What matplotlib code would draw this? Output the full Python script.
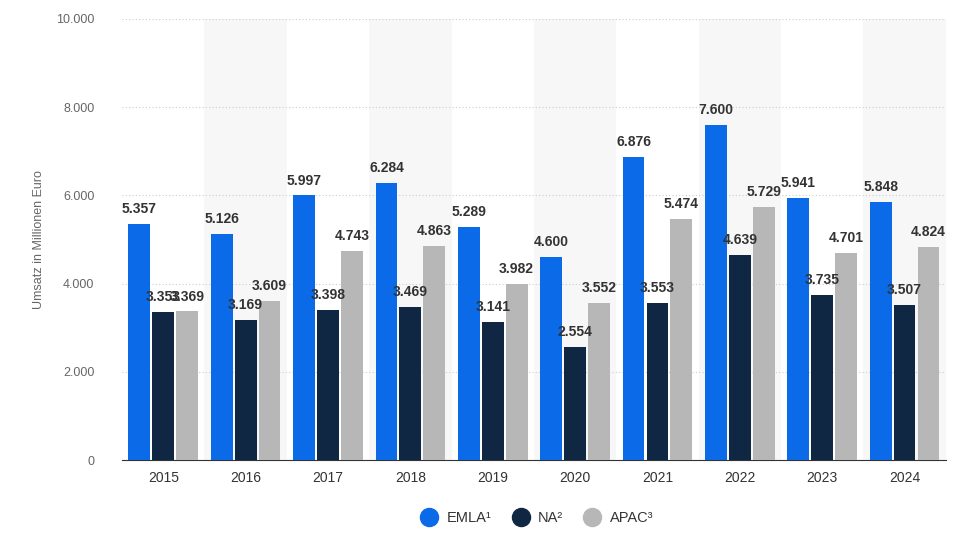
import matplotlib.pyplot as plt
import numpy as np
from matplotlib.lines import Line2D

plt.rcParams['font.family'] = ['Liberation Sans', 'DejaVu Sans']

years = ['2015','2016','2017','2018','2019','2020','2021','2022','2023','2024']
emla = [5357,5126,5997,6284,5289,4600,6876,7600,5941,5848]
na = [3353,3169,3398,3469,3141,2554,3553,4639,3735,3507]
apac = [3369,3609,4743,4863,3982,3552,5474,5729,4701,4824]
series = [('EMLA¹', emla, '#0a6ae8'), ('NA²', na, '#0f2742'), ('APAC³', apac, '#b7b7b7')]

fig = plt.figure(figsize=(9.69,5.55), dpi=100)
ax = fig.add_axes([0.126, 0.171, 0.850, 0.795])
x = np.arange(len(years))
for i in range(len(years)):
    if i % 2 == 1:
        ax.axvspan(i-0.5, i+0.5, color='#f7f7f7', zorder=0, lw=0)
w = 0.265
for k,(name,vals,col) in enumerate(series):
    xs = x + (k-1)*0.29
    ax.bar(xs, vals, w, color=col, zorder=3)
    for xx,v in zip(xs, vals):
        ax.text(xx, v+180, f"{v/1000:.3f}", ha='center', va='bottom', fontsize=10,
                fontweight='bold', color='#333333', zorder=5)
ax.set_xlim(-0.5, len(years)-0.5)
ax.set_ylim(0, 10000)
ax.set_yticks(range(0, 10001, 2000))
ax.set_yticklabels(['0','2.000','4.000','6.000','8.000','10.000'])
ax.set_xticks(x)
ax.set_xticklabels(years)
ax.grid(axis='y', linestyle=(0,(1,2)), color='#cccccc', zorder=1)
for s in ['top','right','left']:
    ax.spines[s].set_visible(False)
ax.spines['bottom'].set_color('#333333')
ax.tick_params(axis='y', length=0, labelsize=9, colors='#666666', pad=20)
ax.tick_params(axis='x', length=0, labelsize=10, colors='#333333', pad=8)
ax.set_ylabel('Umsatz in Millionen Euro', fontsize=9, color='#666666', labelpad=8)
handles = [Line2D([], [], marker='o', ls='', markersize=13, color=c, label=n) for n,_,c in series]
ax.legend(handles=handles, loc='upper center', bbox_to_anchor=(0.5, -0.085), ncol=3, frameon=False,
          fontsize=10.5, handletextpad=0.2, columnspacing=1.0, labelcolor='#333333')
fig.savefig('out.png', dpi=100)
